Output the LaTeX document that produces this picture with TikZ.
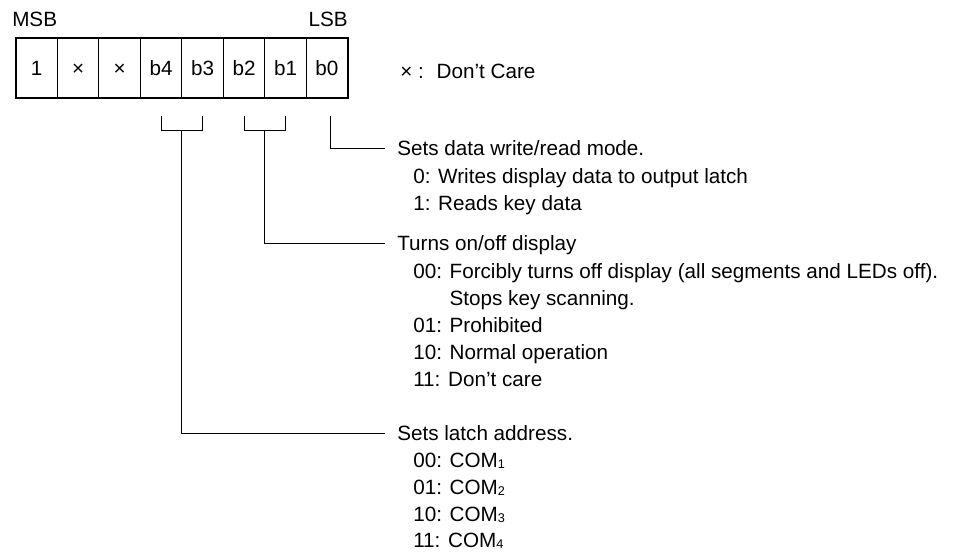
\documentclass[tikz,border=0pt]{standalone}
\usepackage{fontspec}
\setmainfont{Liberation Sans}
\usetikzlibrary{positioning}
\tikzset{
  bitcell/.style = {draw, line width=0.75pt, minimum width=31.1pt, minimum height=45pt,
                    inner sep=0pt, outer sep=0pt, text height=11.1pt, text depth=0pt},
  head/.style = {anchor=west, inner xsep=9pt, inner ysep=0pt, text height=11.1pt, text depth=0pt},
  item/.style = {anchor=base west, inner sep=0pt},
  lead/.style = {line width=0.6pt},
}
\newcommand{\comsub}[1]{\raisebox{-0.8pt}{\fontsize{9.5}{9.5}\selectfont #1}}

\begin{document}
\begin{tikzpicture}[x=0.75pt, y=-0.75pt, font=\fontsize{15.5}{18}\selectfont]
    \useasboundingbox (0,0) rectangle (969,554);
    % Draw the register cells
    \node[bitcell] (bit7) at (36.7,68) {1};
    \node[bitcell, right=0pt of bit7] (bit6) {×};
    \node[bitcell, right=0pt of bit6] (bit5) {×};
    \node[bitcell, right=0pt of bit5] (bit4) {b4};
    \node[bitcell, right=0pt of bit4] (bit3) {b3};
    \node[bitcell, right=0pt of bit3] (bit2) {b2};
    \node[bitcell, right=0pt of bit2] (bit1) {b1};
    \node[bitcell, right=0pt of bit1] (bit0) {b0};
    \draw[line width=1.5pt] (bit7.north west) rectangle (bit0.south east);
    % MSB and LSB labels
    \node[anchor=base west, inner sep=0pt] (msb) at (12,26) {MSB};
    \node[anchor=base east, inner sep=0pt] (lsb) at (348,26) {LSB};
    \node[anchor=base west, inner sep=0pt] (dontcare) at (400,78) {×\ :\hspace{9.6pt}Don’t Care};
    % Draw the descriptions
    \node[head] (mode) at (385,148) {Sets data write/read mode.};
    \node[item] (mode0) at (413,183.8) {0: Writes display data to output latch};
    \node[item] (mode1) at (413,210.7) {1: Reads key data};
    \node[head] (disp) at (385,243) {Turns on/off display};
    \node[item] (disp00) at (413,278.8) {00: Forcibly turns off display (all segments and LEDs off).};
    \node[item] (disp00b) at (413,305.7) {\phantom{00: }Stops key scanning.};
    \node[item] (disp01) at (413,332.6) {01: Prohibited};
    \node[item] (disp10) at (413,359.5) {10: Normal operation};
    \node[item] (disp11) at (413,386.4) {11: Don’t care};
    \node[head] (latch) at (385,433) {Sets latch address.};
    \node[item] (latch00) at (413,467.4) {00: COM\comsub{1}};
    \node[item] (latch01) at (413,494.3) {01: COM\comsub{2}};
    \node[item] (latch10) at (413,521.2) {10: COM\comsub{3}};
    \node[item] (latch11) at (413,547.5) {11: COM\comsub{4}};
    % Draw the brackets and leader lines
    \draw[lead] ([xshift=2.5pt, yshift=-13.5pt]bit0.south) |- (mode.west);
    \draw[lead] ([yshift=-13.5pt]bit2.south) |- ([yshift=-24pt]bit1.south) -- ([yshift=-13.5pt]bit1.south);
    \draw[lead] ([yshift=-24pt]bit2.south east) |- (disp.west);
    \draw[lead] ([yshift=-13.5pt]bit4.south) |- ([yshift=-24pt]bit3.south) -- ([yshift=-13.5pt]bit3.south);
    \draw[lead] ([yshift=-24pt]bit4.south east) |- (latch.west);
\end{tikzpicture}
\end{document}
